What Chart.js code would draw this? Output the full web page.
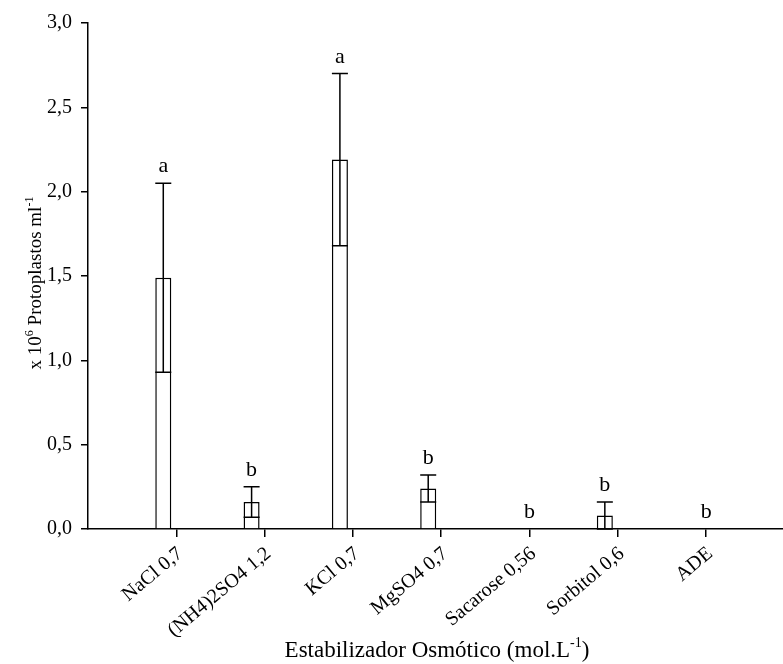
<!DOCTYPE html>
<html>
<head>
<meta charset="utf-8">
<script src="https://cdn.jsdelivr.net/npm/chart.js@4/dist/chart.umd.min.js"></script>
<style>
    html, body { margin: 0; padding: 0; background: #fff; }
    #wrap { width: 783px; height: 664px; position: relative; }
</style>
</head>
<body>
<div id="wrap"><canvas id="protoChart"></canvas></div>
<script>
// Datos (x 10^6 protoplastos por ml)
const categories = ['NaCl 0,7', '(NH4)2SO4 1,2', 'KCl 0,7', 'MgSO4 0,7', 'Sacarose 0,56', 'Sorbitol 0,6', 'ADE'];
const means = [1.49, 0.16, 2.19, 0.24, 0, 0.08, 0];
const errors = [0.56, 0.09, 0.51, 0.08, 0, 0.08, 0];
const letters = ['a', 'b', 'a', 'b', 'b', 'b', 'b'];
const yTicks = [0, 0.5, 1.0, 1.5, 2.0, 2.5, 3.0];

const SERIF = "'Liberation Serif', 'Times New Roman', serif";

// texto con superíndices, centrado en (0,0) del contexto actual
function drawRich(ctx, parts, size) {
    const supSize = Math.round(size * 0.62);
    let total = 0;
    parts.forEach(p => {
        ctx.font = (p.sup ? supSize : size) + 'px ' + SERIF;
        p.w = ctx.measureText(p.t).width;
        total += p.w;
    });
    let cx = -total / 2;
    ctx.textAlign = 'left';
    ctx.textBaseline = 'alphabetic';
    parts.forEach(p => {
        ctx.font = (p.sup ? supSize : size) + 'px ' + SERIF;
        ctx.fillText(p.t, cx, p.sup ? -size * 0.42 : 0);
        cx += p.w;
    });
}

const extras = {
    id: 'extras',
    afterDatasetsDraw(chart) {
        const { ctx, scales: { x, y } } = chart;
        const meta = chart.getDatasetMeta(0);
        ctx.save();
        ctx.strokeStyle = '#000';
        ctx.lineWidth = 1.5;
        ctx.fillStyle = '#000';
        meta.data.forEach((bar, i) => {
            const half = bar.width / 2;
            const yTop = y.getPixelForValue(means[i] + errors[i]);
            if (errors[i] > 0) {
                const yLow = y.getPixelForValue(Math.max(means[i] - errors[i], 0));
                ctx.beginPath();
                ctx.moveTo(bar.x, yLow); ctx.lineTo(bar.x, yTop);
                ctx.moveTo(bar.x - half, yTop); ctx.lineTo(bar.x + half, yTop);
                ctx.moveTo(bar.x - half, yLow); ctx.lineTo(bar.x + half, yLow);
                ctx.stroke();
            }
            // letras de significancia
            const lx = means[i] > 0 ? bar.x : x.getPixelForValue(i + 1);
            ctx.font = '22px ' + SERIF;
            ctx.textAlign = 'center';
            ctx.textBaseline = 'alphabetic';
            ctx.fillText(letters[i], lx, yTop - 11);
        });
        ctx.restore();

        // títulos de los ejes
        ctx.save();
        ctx.fillStyle = '#000';
        ctx.translate(41, 283);
        ctx.rotate(-Math.PI / 2);
        drawRich(ctx, [{ t: 'x 10' }, { t: '6', sup: true }, { t: ' Protoplastos ml' }, { t: '-1', sup: true }], 19);
        ctx.restore();

        ctx.save();
        ctx.fillStyle = '#000';
        ctx.translate(437, 657);
        drawRich(ctx, [{ t: 'Estabilizador Osmótico (mol.L' }, { t: '-1', sup: true }, { t: ')' }], 23);
        ctx.restore();
    }
};

new Chart(document.getElementById('protoChart'), {
    type: 'bar',
    data: {
        datasets: [
            {
                data: means.map((m, i) => ({ x: i + 1, y: m })),
                backgroundColor: '#fff',
                borderColor: '#000',
                borderWidth: 1.5,
                categoryPercentage: 0.59,
                barPercentage: 0.615
            },
            {
                // serie vacía (hace que la barra quede a la izquierda del tick)
                data: means.map((m, i) => ({ x: i + 1, y: 0 })),
                backgroundColor: 'rgba(0,0,0,0)',
                borderWidth: 0,
                categoryPercentage: 0.59,
                barPercentage: 0.615
            }
        ]
    },
    options: {
        responsive: true,
        maintainAspectRatio: false,
        animation: false,
        layout: { padding: { top: 23, left: 0, right: 0, bottom: 0 } },
        plugins: { legend: { display: false }, tooltip: { enabled: false } },
        scales: {
            x: {
                type: 'linear',
                min: 0,
                max: 7.87,
                offset: false,
                z: 1,
                afterBuildTicks: (s) => { s.ticks = categories.map((c, i) => ({ value: i + 1 })); },
                afterFit: (s) => { s.height = 135; },
                grid: { display: true, drawOnChartArea: false, offset: false, tickLength: 8, color: '#000', lineWidth: 1.5 },
                border: { display: true, color: '#000', width: 1.5 },
                ticks: {
                    autoSkip: false,
                    minRotation: 40,
                    maxRotation: 40,
                    padding: 5,
                    labelOffset: 4,
                    color: '#000',
                    font: { family: SERIF, size: 20 },
                    callback: (v, i) => categories[i]
                }
            },
            y: {
                min: 0,
                max: 3,
                afterBuildTicks: (s) => { s.ticks = yTicks.map(v => ({ value: v })); },
                afterFit: (s) => { s.width = 88; },
                grid: { display: true, drawOnChartArea: false, tickLength: 7, color: '#000', lineWidth: 1.5 },
                border: { display: true, color: '#000', width: 1.5 },
                ticks: {
                    padding: 9,
                    color: '#000',
                    font: { family: SERIF, size: 20 },
                    callback: (v) => v.toFixed(1).replace('.', ',')
                }
            }
        }
    },
    plugins: [extras]
});
</script>
</body>
</html>
